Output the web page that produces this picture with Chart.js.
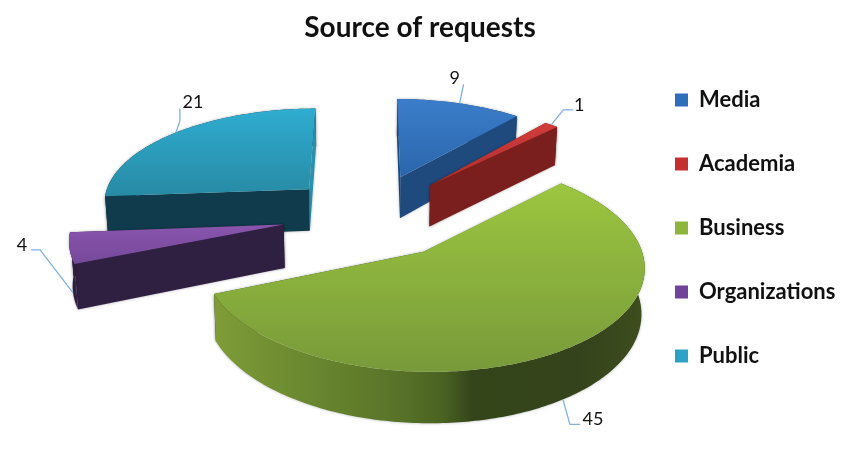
<!DOCTYPE html>
<html>
<head>
<meta charset="utf-8">
<style>
  html,body{margin:0;padding:0;background:#fff;}
  #wrap{width:864px;height:453px;position:relative;}
</style>
<script src="https://cdn.jsdelivr.net/npm/chart.js@4/dist/chart.umd.min.js"></script>
</head>
<body>
<div id="wrap"><canvas id="chart" width="864" height="453"></canvas></div>
<script>
const categories = ['Media','Academia','Business','Organizations','Public'];
const requests   = [9,1,45,4,21];
const chartTitle = 'Source of requests';

/* ---- colours per slice ---- */
const legendColors = ['#2f6fb9','#c4302f','#8fb63c','#6f4499','#2aa3c6'];
const topFrom  = ['#3b7dca','#d23c39','#9cc640','#8a55ad','#2fadd0'];
const topTo    = ['#2a66ab','#ad2f2c','#789a3a','#75499a','#278aa5'];
const wallFlat = ['#1f4a7e','#7a1f1e','#3f5020','#2f2042','#0f3b4c'];
const sideFlat = ['#1f4a7e','#7a1f1e','#6b8a30','#2f2042','#2a90ac'];
const explode  = [44,44,44,42,41];

/* ---- tilted plane (perspective) ---- */
const view = {cx:370, cy:215, a:209, b:96, p:0.12, depth:43, fan:0.988};
function project(u,v,down){
  const w = 1 + view.p*v;
  let x = view.cx + view.a*u/w;
  let y = view.cy - view.b*v/w;
  if(down){
    x = view.cx + (x-view.cx)*view.fan;
    y += view.depth/w;
  }
  return {x,y,v};
}

function sliceGeom(arc){
  const {startAngle,endAngle,outerRadius} = arc.getProps(['startAngle','endAngle','outerRadius'],true);
  const mid = (startAngle+endAngle)/2;
  const off = arc.options.offset/outerRadius;
  const ox = off*Math.cos(mid), oy = -off*Math.sin(mid);
  const rim = [];
  const n = Math.max(2,Math.ceil((endAngle-startAngle)*60));
  for(let i=0;i<=n;i++){
    const t = startAngle+(endAngle-startAngle)*i/n;
    rim.push([ox+Math.cos(t), oy-Math.sin(t)]);
  }
  return {ox,oy,rim,mid};
}

function poly(ctx,pts,fill){
  ctx.beginPath();
  pts.forEach((p,i)=> i? ctx.lineTo(p.x,p.y):ctx.moveTo(p.x,p.y));
  ctx.closePath();
  ctx.fillStyle = fill;
  ctx.fill();
}

function drawSlice(ctx,i,g){
  const up = g.rim.map(r=>project(r[0],r[1],false));
  const dn = g.rim.map(r=>project(r[0],r[1],true));
  const a0 = project(g.ox,g.oy,false), a1 = project(g.ox,g.oy,true);
  const last = up.length-1;

  let wallFill = wallFlat[i];
  if(i===2){ // Business outer wall goes dark towards the right
    const xs = up.map(p=>p.x);
    const gr = ctx.createLinearGradient(Math.min(...xs),0,Math.max(...xs),0);
    gr.addColorStop(0,'#7f9c38');
    gr.addColorStop(0.2,'#6b8a30');
    gr.addColorStop(0.43,'#587328');
    gr.addColorStop(0.53,'#4a6322');
    gr.addColorStop(0.6,'#34451a');
    gr.addColorStop(0.85,'#34431b');
    gr.addColorStop(1,'#3d4e1e');
    wallFill = gr;
  }
  const faces = [
    {pts:up.concat(dn.slice().reverse()), fill:wallFill,
     v:g.rim.reduce((s,r)=>s+r[1],0)/g.rim.length},
    {pts:[a0,up[0],dn[0],a1], fill:i===3||i===4?wallFlat[i]:sideFlat[i],
     v:(g.oy+g.rim[0][1])/2},
    {pts:[a0,up[last],dn[last],a1], fill:i===4?sideFlat[i]:wallFlat[i],
     v:(g.oy+g.rim[last][1])/2}
  ];
  faces.sort((f,h)=>h.v-f.v);

  ctx.save();
  ctx.shadowColor='rgba(0,0,0,.3)';
  ctx.shadowBlur=3;
  faces.forEach(f=>poly(ctx,f.pts,f.fill));
  ctx.restore();

  const top = [a0].concat(up);
  const ys = top.map(p=>p.y);
  const gr = ctx.createLinearGradient(0,Math.min(...ys),0,Math.max(...ys));
  gr.addColorStop(0,topFrom[i]);
  gr.addColorStop(1,topTo[i]);
  poly(ctx,top,gr);
}

/* ---- leader lines, offsets from the slice's mid point on the rim ---- */
const leaders = [
  {down:false, el:[2,-10], end:[4,-19], txt:[-5,-25]},
  {down:false, el:[12,-15], end:[22,-15], txt:[28,-20]},
  {down:true,  el:[7,25],  end:[17,25], txt:[30,20]},
  {down:true,  el:[-33,-43], end:[-42,-43], txt:[-51,-48]},
  {down:false, el:[4,-12], end:[4,-24], txt:[17,-30]}
];

const pie3d = {
  id:'pie3d',
  afterLayout(chart){
    const t = chart.titleBlock, l = chart.legend;
    t.left = 0; t.right = 840;
    const w = l.right-l.left, h = l.bottom-l.top;
    l.left = 633; l.right = l.left+w;
    l.top = 228-h/2; l.bottom = l.top+h;
  },
  beforeDatasetDraw(chart,args){
    const ctx = chart.ctx;
    const arcs = args.meta.data;
    const geoms = arcs.map(sliceGeom);
    // far slices first
    const order = arcs.map((_,i)=>i).sort((a,b)=>geoms[b].oy-geoms[a].oy);
    order.forEach(i=>drawSlice(ctx,i,geoms[i]));

    ctx.save();
    ctx.font = '18px Lato';
    ctx.textAlign='center';
    ctx.textBaseline='middle';
    arcs.forEach((arc,i)=>{
      const g = geoms[i], L = leaders[i];
      const ax = g.ox+Math.cos(g.mid), ay = g.oy-Math.sin(g.mid);
      const p = project(ax,ay,L.down);
      ctx.beginPath();
      ctx.moveTo(p.x,p.y);
      ctx.lineTo(p.x+L.el[0],p.y+L.el[1]);
      ctx.lineTo(p.x+L.end[0],p.y+L.end[1]);
      ctx.strokeStyle='#7fb1e3';
      ctx.lineWidth=1.3;
      ctx.stroke();
      ctx.fillStyle='#111';
      ctx.fillText(String(requests[i]),p.x+L.txt[0],p.y+L.txt[1]);
    });
    ctx.restore();
    return false;
  }
};

new Chart(document.getElementById('chart'),{
  type:'pie',
  data:{
    labels:categories,
    datasets:[{
      data:requests,
      backgroundColor:legendColors,
      borderWidth:0,
      radius:100,
      offset:explode
    }]
  },
  options:{
    responsive:false,
    animation:false,
    events:[],
    plugins:{
      title:{
        display:true,
        text:chartTitle,
        color:'#111',
        font:{family:'Lato',size:28,weight:'bold'},
        padding:{top:11,bottom:10}
      },
      legend:{
        position:'right',
        labels:{
          boxWidth:13,
          boxHeight:13,
          padding:42,
          color:'#111',
          font:{family:'Lato',size:22,weight:'bold'}
        }
      },
      tooltip:{enabled:false}
    }
  },
  plugins:[pie3d]
});
</script>
</body>
</html>
